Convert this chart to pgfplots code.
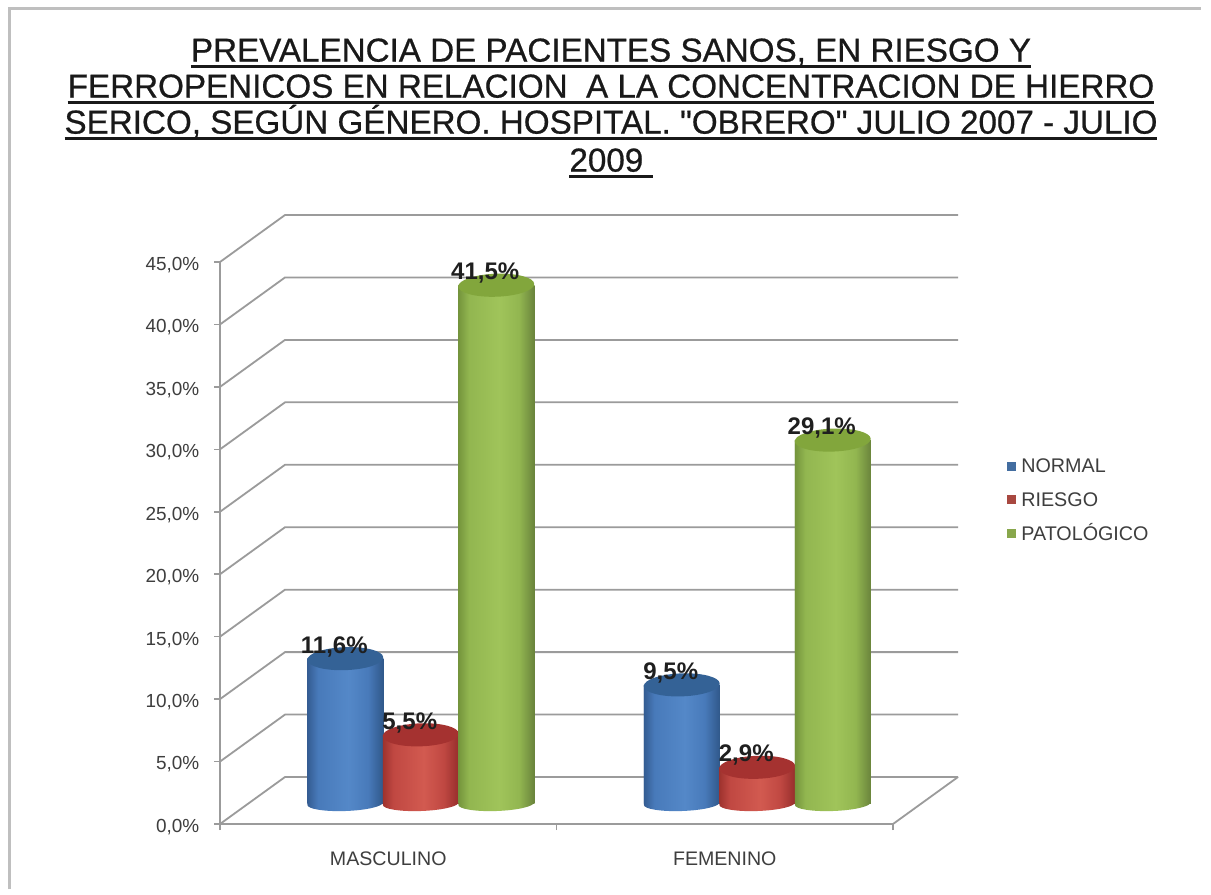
\documentclass[border=0pt]{standalone}
\usepackage{fontspec}
\setmainfont{Liberation Sans}[Ligatures=TeXOff]
\newfontfamily\titlefont{Liberation Sans}[Ligatures=TeXOff, FakeBold=0.6]
\usepackage{pgfplots}
\usepackage{pgfplotstable}
\pgfplotsset{compat=1.18}
\usetikzlibrary{shapes.geometric}

% one drawing unit
\newlength{\unitpx}\setlength{\unitpx}{0.75pt}
\newcommand{\px}[1]{#1\unitpx}

\definecolor{gridgray}{RGB}{155,155,155}
\definecolor{labelgray}{RGB}{62,62,62}
\definecolor{blueA}{RGB}{52,92,146}\definecolor{blueM}{RGB}{72,122,186}\definecolor{blueB}{RGB}{84,136,200}\definecolor{blueC}{RGB}{48,88,138}\definecolor{blueT}{RGB}{52,98,150}
\definecolor{redA}{RGB}{158,50,46}\definecolor{redM}{RGB}{192,72,66}\definecolor{redB}{RGB}{210,90,80}\definecolor{redC}{RGB}{150,46,44}\definecolor{redT}{RGB}{165,50,48}
\definecolor{greenA}{RGB}{116,148,60}\definecolor{greenM}{RGB}{146,182,80}\definecolor{greenB}{RGB}{160,196,90}\definecolor{greenC}{RGB}{106,132,60}\definecolor{greenT}{RGB}{130,166,60}

% round sides of the three cylinders; the body spans 25bp to 75bp
\pgfdeclarehorizontalshading{cylblue}{100bp}{color(0bp)=(blueA); color(25bp)=(blueA); color(32bp)=(blueM); color(52bp)=(blueB); color(65bp)=(blueM); color(75bp)=(blueC); color(100bp)=(blueC)}
\pgfdeclarehorizontalshading{cylred}{100bp}{color(0bp)=(redA); color(25bp)=(redA); color(32bp)=(redM); color(52bp)=(redB); color(65bp)=(redM); color(75bp)=(redC); color(100bp)=(redC)}
\pgfdeclarehorizontalshading{cylgreen}{100bp}{color(0bp)=(greenA); color(25bp)=(greenA); color(32bp)=(greenM); color(52bp)=(greenB); color(65bp)=(greenM); color(75bp)=(greenC); color(100bp)=(greenC)}

% percentage of patients by sex
\pgfplotstableread{
x   base normal riesgo patologico
0.5 0    11.6   5.5    41.5
1.5 0    9.5    2.9    29.1
}\prevalencia

% title line with a heavy rule under it
\newcommand{\ultitle}[1]{\setbox0=\hbox{#1}\rlap{\rule[-6\unitpx]{\wd0}{2.8\unitpx}}\box0}

% cylinder: column, bar offset, shading, side colour, top colour
\newcommand{\cylinder}[5]{%
  % lower rim
  \addplot[ybar, bar width=\px{76}, bar shift=#2, draw=none, fill=none, forget plot,
    nodes near coords={},
    nodes near coords style={ellipse, anchor=center, inner sep=0pt, draw=none, xshift=#2, rotate=2,
      minimum width=\px{76}, minimum height=\px{15}, shade, shading=#3}]
    table[x=x, y=base] {\prevalencia};
  % body, with the round shading laid over the bar to the same height
  \addplot[ybar, bar width=\px{76}, bar shift=#2, draw=none, fill=#4, forget plot,
    visualization depends on={y \as \barvalue},
    nodes near coords={},
    nodes near coords style={rectangle, anchor=north, inner sep=0pt, draw=none, xshift=#2,
      minimum width=\px{76}, minimum height={\barvalue*9.3667pt}, shade, shading=#3}]
    table[x=x, y=#1] {\prevalencia};
  % top face
  \addplot[ybar, bar width=\px{76}, bar shift=#2, draw=none, fill=none, forget plot,
    nodes near coords={},
    nodes near coords style={ellipse, anchor=center, inner sep=0pt, draw=none, xshift=#2, rotate=2,
      minimum width=\px{76}, minimum height=\px{23}, fill=#5}]
    table[x=x, y=#1] {\prevalencia};
}
% value label for one series
\newcommand{\valuelabel}[2]{%
  \addplot[ybar, bar width=\px{76}, bar shift=#2, draw=none, fill=none, forget plot,
    nodes near coords={\pgfmathprintnumber[fixed, fixed zerofill, precision=1, use comma, assume math mode=true]{\pgfplotspointmeta}\%},
    nodes near coords style={anchor=center, xshift=#2, xshift=-\px{11}, yshift=\px{12},
      font=\fontsize{18pt}{18pt}\selectfont\bfseries, text=black!88, inner sep=0pt}]
    table[x=x, y=#1] {\prevalencia};
}

\begin{document}
\begin{tikzpicture}[x=\unitpx, y=-\unitpx]
  \path[use as bounding box] (0,0) rectangle (1211,894);
  \fill[white] (0,0) rectangle (1211,894);
  \draw[black!25, line width=\px{3}] (9,889) -- (9,8) -- (1201,8);

  \node[align=center, inner sep=0pt, text=black!90, font=\fontsize{24.9pt}{27pt}\titlefont] at (611,108)
    {\ultitle{PREVALENCIA DE PACIENTES SANOS, EN RIESGO Y}\\
     \ultitle{FERROPENICOS EN RELACION\ \ A LA CONCENTRACION DE HIERRO}\\
     \ultitle{SERICO, SEGÚN GÉNERO. HOSPITAL. "OBRERO" JULIO 2007 - JULIO}\\[2\unitpx]
     \ultitle{2009\ }};

  % frame: walls, floor, axes and tick labels
  \begin{axis}[
    at={(220\unitpx,-824\unitpx)}, anchor=south west,
    scale only axis, width=\px{673}, height=\px{562},
    xmin=0, xmax=2, ymin=0, ymax=45,
    clip=false,
    axis x line=bottom, axis y line=left,
    axis line style={gridgray, line width=\px{2}, -},
    tick style={gridgray, line width=\px{1.5}},
    tick align=outside, major tick length=\px{6},
    xtick={0,1,2}, xticklabels={},
    extra x ticks={0.5,1.5}, extra x tick labels={MASCULINO,FEMENINO},
    extra x tick style={major tick length=0pt, xticklabel style={yshift=-\px{23}, font=\fontsize{14.7pt}{14.7pt}\selectfont}},
    ytick={0,5,...,45},
    yticklabel={\pgfmathprintnumber[fixed, fixed zerofill, precision=1, use comma, assume math mode=true]{\tick}\%},
    ticklabel style={font=\fontsize{14.2pt}{14.2pt}\selectfont, text=labelgray},
    yticklabel style={xshift=-\px{10}, yshift=-\px{3}},
    legend cell align=left,
    legend style={at={(1.170,0.654)}, anchor=north west, draw=none, fill=none,
      font=\fontsize{14.8pt}{14.8pt}\selectfont, text=labelgray,
      row sep=\px{15}, column sep=\px{3}, inner sep=0pt,
      nodes={text height=10pt, text depth=0pt}},
  ]
    \addlegendimage{only marks, mark=square*, mark size=\px{4}, color=blueB!80!black}
    \addlegendentry{NORMAL}
    \addlegendimage{only marks, mark=square*, mark size=\px{4}, color=redB!80!black}
    \addlegendentry{RIESGO}
    \addlegendimage{only marks, mark=square*, mark size=\px{4}, color=greenB!85!black}
    \addlegendentry{PATOLÓGICO}

    % receding floor and wall lines, one for each tick level
    \pgfplotsinvokeforeach{0,5,...,45}{
      \draw[gridgray, line width=\px{1.8}]
        (axis cs:0,#1) -- ++(\px{65},\px{47}) -- ++(\px{673},0);
    }
    \draw[gridgray, line width=\px{1.8}] (axis cs:2,0) -- ++(\px{65},\px{47});
  \end{axis}

  % cylinders stand half way back on the floor
  \begin{axis}[
    at={(252.5\unitpx,-803.5\unitpx)}, anchor=south west,
    scale only axis, width=\px{673}, height=\px{562},
    xmin=0, xmax=2, ymin=0, ymax=45,
    clip=false, hide axis,
  ]
    \cylinder{normal}{-\px{75.5}}{cylblue}{blueA}{blueT}
    \cylinder{riesgo}{0pt}{cylred}{redA}{redT}
    \cylinder{patologico}{\px{75.5}}{cylgreen}{greenA}{greenT}
    \valuelabel{normal}{-\px{75.5}}
    \valuelabel{riesgo}{0pt}
    \valuelabel{patologico}{\px{75.5}}
  \end{axis}
\end{tikzpicture}
\end{document}
